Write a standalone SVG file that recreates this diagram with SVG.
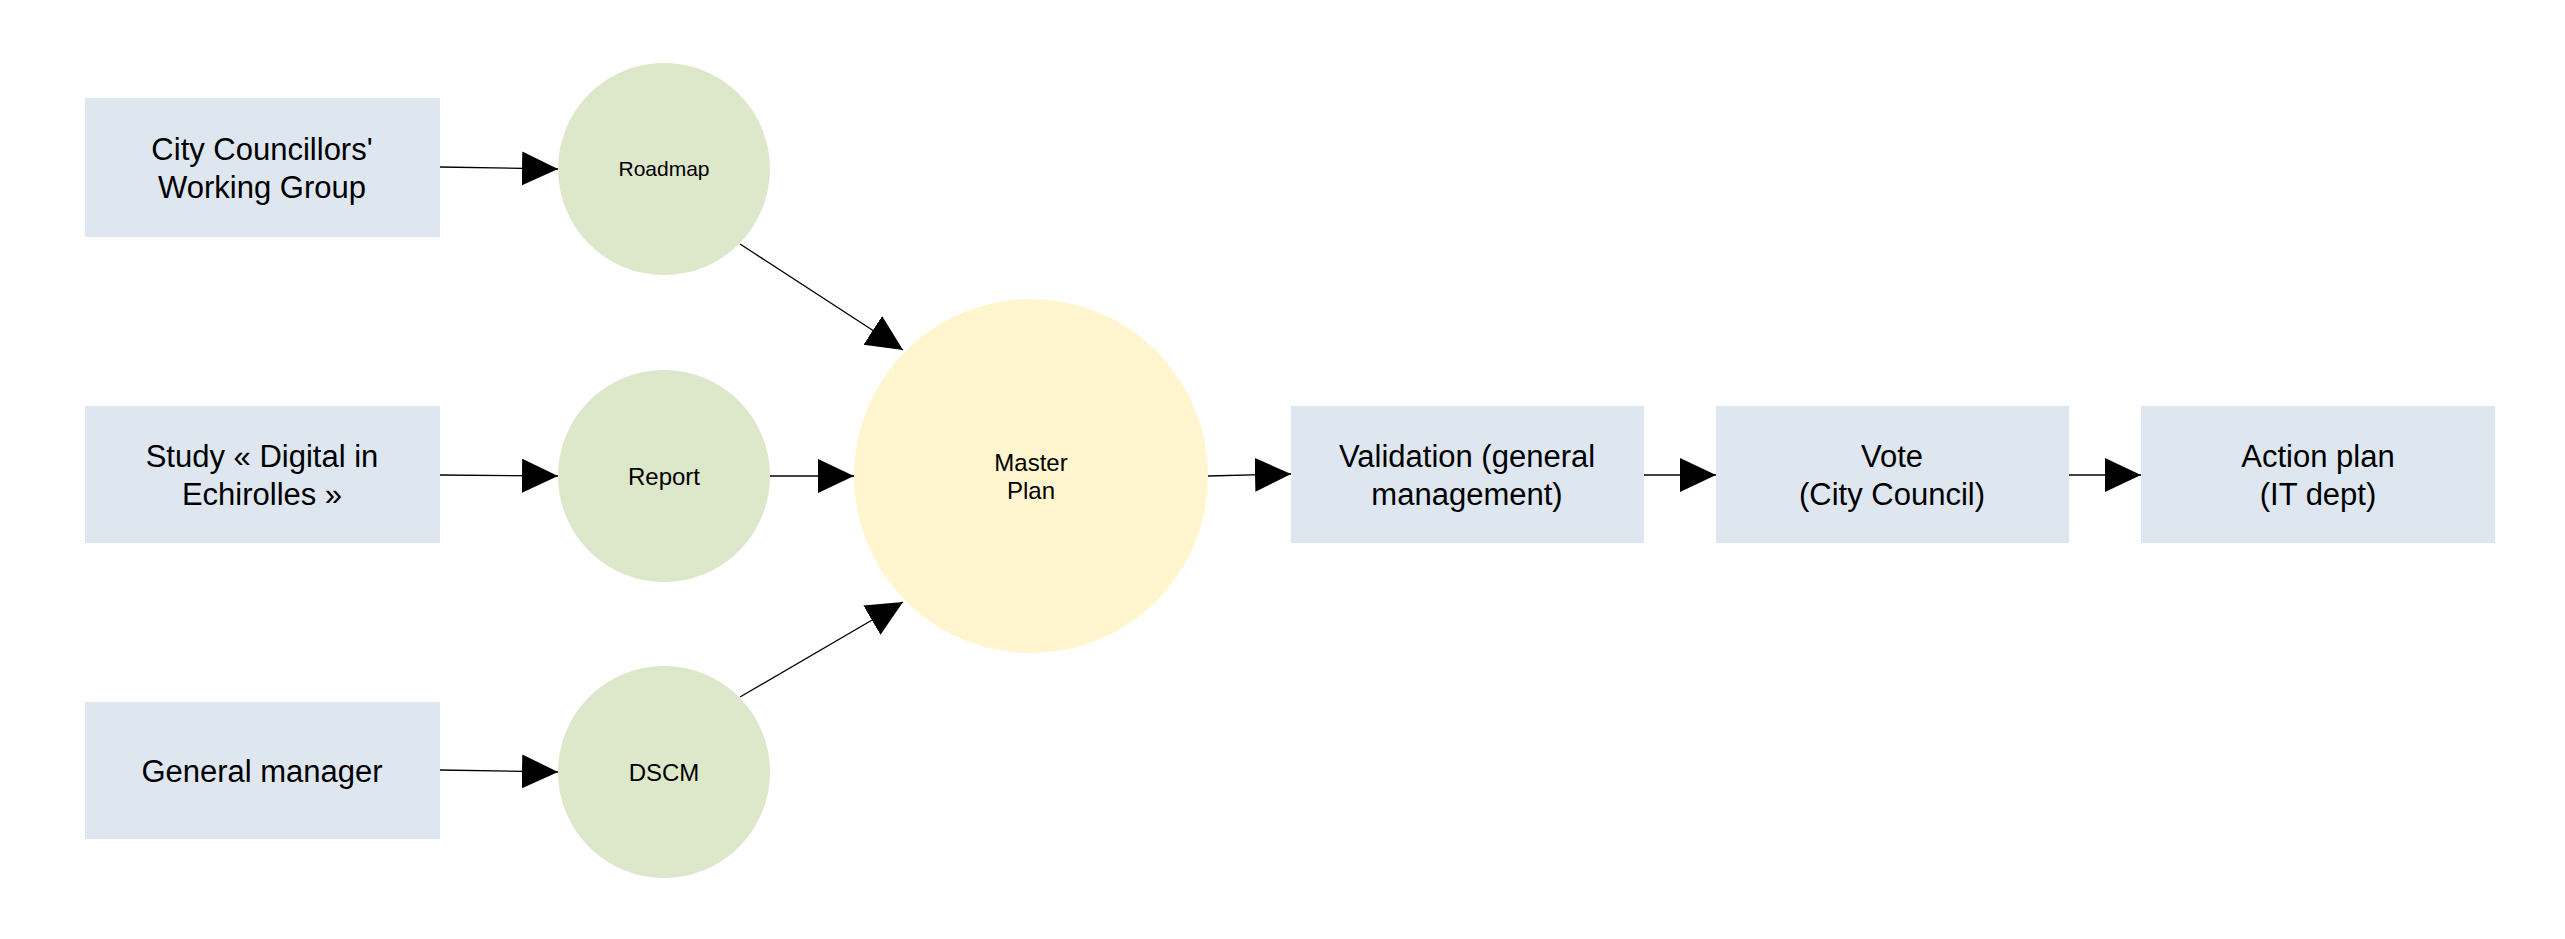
<svg xmlns="http://www.w3.org/2000/svg" width="2565" height="939" viewBox="0 0 2565 939">
<style>
.box{fill:#dee6ef}
.g{fill:#dde8cb}
.y{fill:#fff5ce}
text{font-family:"Liberation Sans",Arial,sans-serif;text-anchor:middle;fill:#000}
.bt{font-size:31px}
.ct{font-size:24px}
.e{stroke:#000;stroke-width:1.3;fill:none;marker-end:url(#a)}
</style>
<defs><marker id="a" markerUnits="userSpaceOnUse" markerWidth="38" markerHeight="36" refX="36" refY="17" orient="auto"><path d="M0,0 L36,17 L0,34 z" fill="#000"/></marker></defs>
<rect width="2565" height="939" fill="#fff"/>
<g id="n1"><rect class="box" x="85" y="98" width="355" height="139"/><text class="bt" x="262" y="160">City Councillors'</text><text class="bt" x="262" y="198">Working Group</text></g>
<g id="n2"><rect class="box" x="85" y="406" width="355" height="137"/><text class="bt" x="262" y="467">Study « Digital in</text><text class="bt" x="262" y="505">Echirolles »</text></g>
<g id="n3"><rect class="box" x="85" y="702" width="355" height="137"/><text class="bt" x="262" y="782">General manager</text></g>
<g id="roadmap"><circle class="g" cx="664" cy="169" r="106"/><text x="664" y="176" font-size="21">Roadmap</text></g>
<g id="report"><circle class="g" cx="664" cy="476" r="106"/><text class="ct" x="664" y="485">Report</text></g>
<g id="dscm"><circle class="g" cx="664" cy="772" r="106"/><text class="ct" x="664" y="781">DSCM</text></g>
<g id="master"><circle class="y" cx="1031" cy="476" r="177"/><text class="ct" x="1031" y="471">Master</text><text class="ct" x="1031" y="499">Plan</text></g>
<g id="validation"><rect class="box" x="1291" y="406" width="353" height="137"/><text class="bt" x="1467" y="467">Validation (general</text><text class="bt" x="1467" y="505">management)</text></g>
<g id="vote"><rect class="box" x="1716" y="406" width="353" height="137"/><text class="bt" x="1892" y="467">Vote</text><text class="bt" x="1892" y="505">(City Council)</text></g>
<g id="action"><rect class="box" x="2141" y="406" width="354" height="137"/><text class="bt" x="2318" y="467">Action plan</text><text class="bt" x="2318" y="505">(IT dept)</text></g>
<g id="edges">
<path class="e" d="M440,167 L558,169"/>
<path class="e" d="M440,475 L558,476"/>
<path class="e" d="M440,770 L558,772"/>
<path class="e" d="M740,244 L903,350"/>
<path class="e" d="M770,476 L854,476"/>
<path class="e" d="M740,697 L903,602"/>
<path class="e" d="M1208,476 L1291,474"/>
<path class="e" d="M1644,475 L1716,475"/>
<path class="e" d="M2069,475 L2141,475"/>
</g>
</svg>
